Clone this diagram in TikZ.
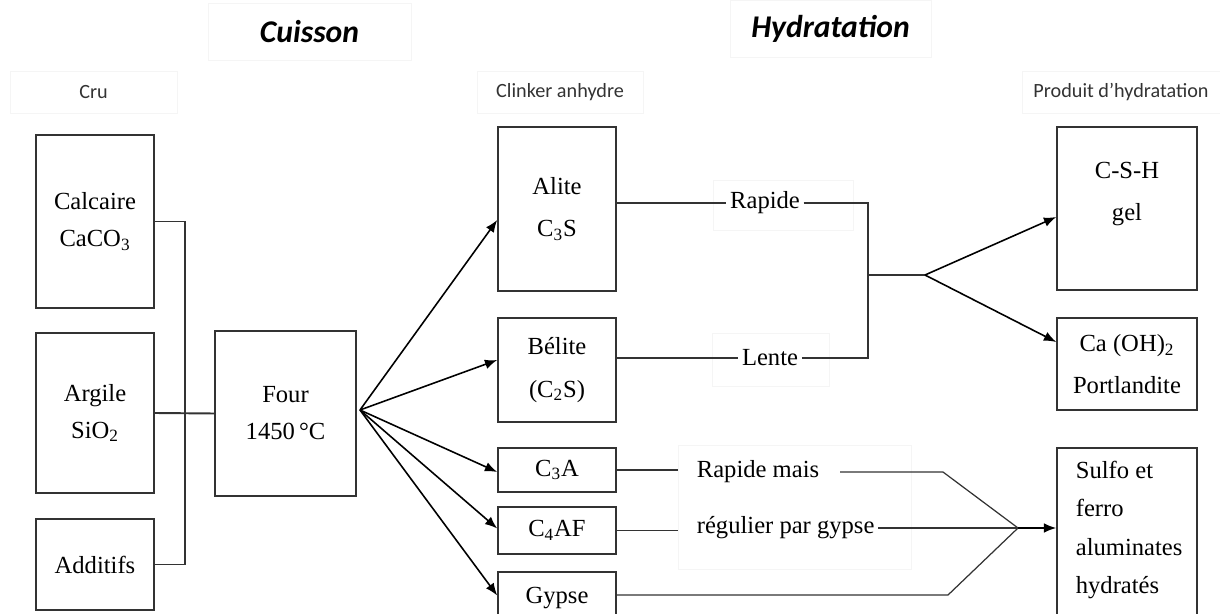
\documentclass[tikz,border=0pt]{standalone}
\usepackage{fontspec}
\setmainfont{Liberation Serif}
\newfontfamily\calib{Carlito}
\usetikzlibrary{arrows.meta,calc}
\begin{document}
\begin{tikzpicture}[x=0.02cm,y=-0.02cm,
  box/.style={draw=black!80,line width=0.9pt,align=center,minimum width=2.36cm,font=\fontsize{14}{24}\selectfont},
  lbox/.style={box,font=\fontsize{14}{21}\selectfont},
  tag/.style={draw=black!4,font=\calib\fontsize{11.5}{13}\selectfont,text=black!80},
  head/.style={draw=black!4,font=\calib\bfseries\itshape\fontsize{18}{20}\selectfont},
  txt/.style={font=\fontsize{14}{17}\selectfont,inner sep=2pt},
  ln/.style={black!80,line width=0.7pt},
  arr/.style={line width=0.9pt,-{Latex[length=7pt,width=5.5pt]}},
  faint/.style={draw=black!4}]
\useasboundingbox (0,0) rectangle (1220,614);
%
\node[head,minimum width=4.06cm,minimum height=1.14cm] (cuisson) at (309.5,31.5) {Cuisson};
\node[head,minimum width=4.02cm,minimum height=1.14cm] (hydra) at (830.5,28.5) {Hydratation};
\node[tag,minimum width=3.34cm,minimum height=0.84cm] (cru) at (93.5,92) {Cru};
\node[tag,minimum width=3.32cm,minimum height=0.84cm] (clinker) at (560,92) {Clinker anhydre};
\node[tag,minimum width=3.96cm,minimum height=0.84cm] (produit) at (1121,92) {Produit d’hydratation};
%
\node[lbox,minimum height=3.46cm] (calc) at (95,221.5) {Calcaire\\CaCO\textsubscript{3}};
\node[lbox,minimum height=3.2cm] (argile) at (95,413) {Argile\\SiO\textsubscript{2}};
\node[lbox,minimum height=1.82cm] (add) at (95,564.5) {Additifs};
\node[lbox,minimum width=2.82cm,minimum height=3.3cm] (four) at (285.5,413.5) {Four\\1450\,°C};
%
\node[box,minimum height=3.28cm] (alite) at (557,209) {Alite\\C\textsubscript{3}S};
\node[box,minimum height=2.08cm] (belite) at (557,370) {Bélite\\(C\textsubscript{2}S)};
\node[box,minimum height=0.88cm] (c3a) at (557,470) {C\textsubscript{3}A};
\node[box,minimum height=0.94cm] (c4af) at (557,530.5) {C\textsubscript{4}AF};
\node[box,minimum height=1.06cm] (gypse) at (557,598.5) {Gypse};
%
\node[box,minimum width=2.8cm,minimum height=3.26cm] (csh) at (1127,208.5) {};
\node[txt,align=center,font=\fontsize{14}{24}\selectfont] (cshtxt) at (1127,194) {C-S-H\\gel};
\node[box,minimum width=2.8cm,minimum height=1.84cm] (caoh) at (1127,364) {Ca (OH)\textsubscript{2}\\Portlandite};
\node[box,minimum width=2.8cm,minimum height=3.54cm] (sulfo) at (1127,536.5) {};
\node[txt,anchor=west,align=left,font=\fontsize{14}{22}\selectfont] (sulfotxt) at (1072,530) {Sulfo et\\ferro\\aluminates\\hydratés};
%
\draw[faint] (713,180) rectangle (853,230);
\draw[faint] (712,333) rectangle (829,386);
\node[faint,minimum width=4.66cm,minimum height=2.48cm] (rgbox) at (794.5,507) {};
\node[txt] (rapide) at (765,203) {Rapide};
\node[txt] (lente) at (770,358) {Lente};
\node[txt,anchor=west] (rmais) at (693,472) {Rapide mais};
\node[txt,anchor=west] (regul) at (693,528) {régulier par gypse};
%
\coordinate (bus) at (185,413);
\draw[ln] (calc.east) -| (bus);
\draw[ln] (add.east) -| (bus);
\draw[ln,line width=1.1pt] (argile.east) -- (four.west);
%
\coordinate (fan) at (360,410);
\foreach \n/\dy in {alite/11,belite/-10,c3a/2,c4af/-2,gypse/-3}
  \draw[arr] (fan) -- ($(\n.west)+(0,\dy)$);
%
\coordinate (join) at (868,275);
\coordinate (split) at (925,275);
\draw[ln] (alite.east |- rapide) -- (rapide);
\draw[ln] (rapide) -| (join);
\draw[ln] (belite.east |- lente) -- (lente);
\draw[ln] (lente) -| (join);
\draw[ln] (join) -- (split);
\draw[arr] (split) -- ($(csh.west)+(0,8.5)$);
\draw[arr] (split) -- ($(caoh.west)+(0,-22)$);
%
\coordinate (kinka) at (943,472);
\coordinate (kinkb) at (948,595);
\coordinate (merge) at (1018,528);
\draw[ln] (c3a.east) -- (c3a.east -| rgbox.west);
\draw[ln] (c4af.east) -- (c4af.east -| rgbox.west);
\draw[ln] ($(rmais.east)+(17,0)$) -- (kinka) -- (merge);
\draw[ln] (regul) -- (merge);
\draw[ln] (gypse.east |- kinkb) -- (kinkb) -- (merge);
\draw[arr] (merge) -- (merge -| sulfo.west);
\end{tikzpicture}
\end{document}
